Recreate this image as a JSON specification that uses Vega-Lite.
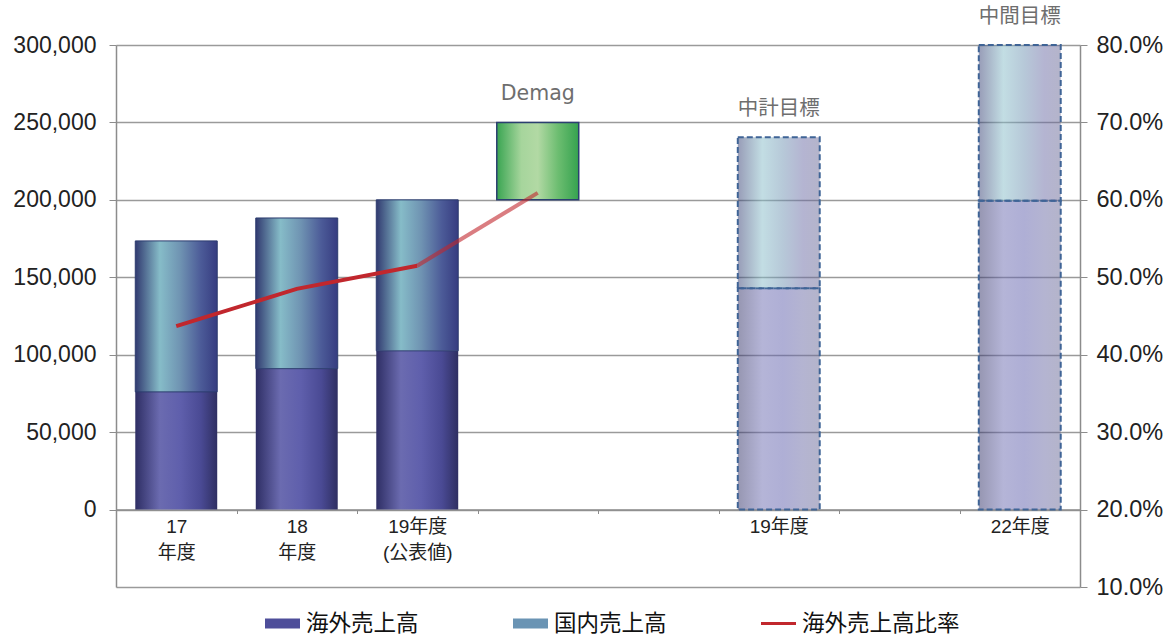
{
  "$schema": "https://vega.github.io/schema/vega-lite/v6.json",
  "width": 964,
  "height": 542,
  "autosize": {"type": "none"},
  "padding": {"left": 116, "top": 45, "right": 96, "bottom": 50},
  "config": {"view": {"stroke": null}, "font": "Liberation Sans, Noto Sans CJK JP"},
  "datasets": {
    "bars": [
      {"cat": "17|年度", "series": "海外売上高", "start": 0, "end": 76000, "kind": "実績"},
      {"cat": "17|年度", "series": "国内売上高", "start": 76000, "end": 173500, "kind": "実績"},
      {"cat": "18|年度", "series": "海外売上高", "start": 0, "end": 91000, "kind": "実績"},
      {"cat": "18|年度", "series": "国内売上高", "start": 91000, "end": 188300, "kind": "実績"},
      {"cat": "19年度|(公表値)", "series": "海外売上高", "start": 0, "end": 102500, "kind": "実績"},
      {"cat": "19年度|(公表値)", "series": "国内売上高", "start": 102500, "end": 200000, "kind": "実績"},
      {"cat": "19年度", "series": "海外売上高", "start": 0, "end": 143000, "kind": "目標"},
      {"cat": "19年度", "series": "国内売上高", "start": 143000, "end": 240500, "kind": "目標"},
      {"cat": "22年度", "series": "海外売上高", "start": 0, "end": 199500, "kind": "目標"},
      {"cat": "22年度", "series": "国内売上高", "start": 199500, "end": 300000, "kind": "目標"}
    ],
    "demag": [{"cat": "Demag", "start": 200000, "end": 250000}],
    "labels": [
      {"cat": "Demag", "label": "Demag", "top": 250000},
      {"cat": "19年度", "label": "中計目標", "top": 240500},
      {"cat": "22年度", "label": "中間目標", "top": 300000}
    ],
    "ratio": [
      {"cat": "17|年度", "series": "海外売上高比率", "ratio": 0.437, "seg": "実績"},
      {"cat": "18|年度", "series": "海外売上高比率", "ratio": 0.485, "seg": "実績"},
      {"cat": "19年度|(公表値)", "series": "海外売上高比率", "ratio": 0.515, "seg": "実績"},
      {"cat": "19年度|(公表値)", "series": "海外売上高比率", "ratio": 0.515, "seg": "Demag込"},
      {"cat": "Demag", "series": "海外売上高比率", "ratio": 0.609, "seg": "Demag込"}
    ]
  },
  "encoding": {
    "x": {
      "field": "cat",
      "type": "nominal",
      "sort": null,
      "scale": {
        "domain": ["17|年度", "18|年度", "19年度|(公表値)", "Demag", "s5", "19年度", "s7", "22年度"],
        "paddingInner": 0,
        "paddingOuter": 0
      },
      "axis": {
        "title": null,
        "labelAngle": 0,
        "labelExpr": "!isString(datum.value) || indexof(['Demag','s5','s7'], datum.value) >= 0 ? '' : split(datum.value, '|')",
        "tickBand": "extent",
        "offset": -77.5,
        "domainColor": "#8c8c8c",
        "domainWidth": 1.5,
        "tickColor": "#8c8c8c",
        "tickSize": 4,
        "labelFontSize": 19,
        "labelLineHeight": 26,
        "labelColor": "#222222",
        "labelPadding": 4,
        "grid": false
      }
    }
  },
  "layer": [
    {
      "layer": [
        {
          "data": {"name": "bars"},
          "transform": [{"filter": "datum.kind === '実績'"}],
          "mark": {"type": "bar", "width": {"band": 0.68}, "opacity": 0},
          "encoding": {
            "y": {
              "field": "start",
              "type": "quantitative",
              "scale": {"domain": [-50000, 300000], "nice": false, "zero": false},
              "axis": {
                "title": null,
                "values": [0, 50000, 100000, 150000, 200000, 250000, 300000],
                "format": ",.0f",
                "grid": false,
                "domainColor": "#8c8c8c",
                "domainWidth": 1.5,
                "tickColor": "#8c8c8c",
                "tickSize": 7,
                "labelPadding": 13,
                "labelFontSize": 23,
                "labelColor": "#222222"
              }
            },
            "y2": {"field": "end"},
            "color": {
              "field": "series",
              "type": "nominal",
              "scale": {
                "domain": ["海外売上高", "国内売上高", "海外売上高比率"],
                "range": ["#4e4e9a", "#6a94b4", "#c1272d"]
              },
              "legend": {
                "orient": "none",
                "legendX": 149,
                "legendY": 561,
                "direction": "horizontal",
                "title": null,
                "padding": 0,
                "labelFont": "Noto Sans CJK JP",
                "labelFontSize": 22.5,
                "labelColor": "#111111",
                "labelOffset": 6,
                "labelLimit": 300,
                "columnPadding": 94,
                "symbolSize": 1225,
                "symbolOpacity": 1,
                "symbolStrokeWidth": 0,
                "encode": {
                  "symbols": {
                    "update": {
                      "shape": {"signal": "datum.value === '海外売上高比率' ? 'M-1,-0.09H1V0.09H-1Z' : 'M-1,-0.29H1V0.29H-1Z'"},
                      "opacity": {"value": 1}
                    }
                  }
                }
              }
            }
          }
        },
        {
          "data": {"name": "bars"},
          "transform": [{"filter": "datum.kind === '実績' && datum.series === '海外売上高'"}],
          "mark": {
            "type": "bar", "width": {"band": 0.68},
            "fill": {"gradient": "linear", "x1": 0, "y1": 0, "x2": 1, "y2": 0, "stops": [
              {"offset": 0, "color": "#2e2e64"},
              {"offset": 0.3, "color": "#6b6bb0"},
              {"offset": 0.55, "color": "#5f5fac"},
              {"offset": 0.8, "color": "#4a4a94"},
              {"offset": 1, "color": "#2f2f62"}]}
          },
          "encoding": {
            "y": {"field": "start", "type": "quantitative"},
            "y2": {"field": "end"}
          }
        },
        {
          "data": {"name": "bars"},
          "transform": [{"filter": "datum.kind === '実績' && datum.series === '国内売上高'"}],
          "mark": {
            "type": "bar", "width": {"band": 0.68}, "stroke": "#2b3b6e", "strokeWidth": 1,
            "fill": {"gradient": "linear", "x1": 0, "y1": 0, "x2": 1, "y2": 0, "stops": [
              {"offset": 0, "color": "#313a70"},
              {"offset": 0.3, "color": "#86bcc8"},
              {"offset": 0.55, "color": "#6f93b2"},
              {"offset": 0.8, "color": "#4c5b98"},
              {"offset": 1, "color": "#363c80"}]}
          },
          "encoding": {
            "y": {"field": "start", "type": "quantitative"},
            "y2": {"field": "end"}
          }
        },
        {
          "data": {"name": "bars"},
          "transform": [{"filter": "datum.kind === '目標' && datum.series === '海外売上高'"}],
          "mark": {
            "type": "bar", "width": {"band": 0.68}, "fillOpacity": 0.5,
            "stroke": "#3f6496", "strokeWidth": 2, "strokeDash": [6, 3],
            "fill": {"gradient": "linear", "x1": 0, "y1": 0, "x2": 1, "y2": 0, "stops": [
              {"offset": 0, "color": "#2e2e64"},
              {"offset": 0.3, "color": "#6b6bb0"},
              {"offset": 0.55, "color": "#5f5fac"},
              {"offset": 0.8, "color": "#6a6aa4"},
              {"offset": 1, "color": "#6a6a96"}]}
          },
          "encoding": {
            "y": {"field": "start", "type": "quantitative"},
            "y2": {"field": "end"}
          }
        },
        {
          "data": {"name": "bars"},
          "transform": [{"filter": "datum.kind === '目標' && datum.series === '国内売上高'"}],
          "mark": {
            "type": "bar", "width": {"band": 0.68}, "fillOpacity": 0.5,
            "stroke": "#3f6496", "strokeWidth": 2, "strokeDash": [6, 3],
            "fill": {"gradient": "linear", "x1": 0, "y1": 0, "x2": 1, "y2": 0, "stops": [
              {"offset": 0, "color": "#313a70"},
              {"offset": 0.3, "color": "#86bcc8"},
              {"offset": 0.55, "color": "#6f93b2"},
              {"offset": 0.8, "color": "#6a6aa4"},
              {"offset": 1, "color": "#6a6a96"}]}
          },
          "encoding": {
            "y": {"field": "start", "type": "quantitative"},
            "y2": {"field": "end"}
          }
        },
        {
          "data": {"name": "demag"},
          "mark": {
            "type": "bar",
            "width": {"band": 0.68},
            "stroke": "#2b3f70",
            "strokeWidth": 1.5,
            "fill": {"gradient": "linear", "x1": 0, "y1": 0, "x2": 1, "y2": 0, "stops": [
              {"offset": 0, "color": "#3aa552"},
              {"offset": 0.3, "color": "#a6d59c"},
              {"offset": 0.5, "color": "#b2d9a4"},
              {"offset": 0.75, "color": "#6cbd70"},
              {"offset": 1, "color": "#35a24f"}]}
          },
          "encoding": {
            "y": {"field": "start", "type": "quantitative"},
            "y2": {"field": "end"}
          }
        },
        {
          "data": {"name": "labels"},
          "mark": {"type": "text", "dy": -28, "baseline": "middle", "fontSize": 20.5, "color": "#6e6e6e", "font": "DejaVu Sans, Noto Sans CJK JP"},
          "encoding": {
            "y": {"field": "top", "type": "quantitative"},
            "text": {"field": "label"}
          }
        }
      ]
    },
    {
      "layer": [
        {
          "data": {"name": "ratio"},
          "transform": [{"filter": "datum.seg === '実績'"}],
          "mark": {"type": "line", "strokeWidth": 4},
          "encoding": {
            "y": {
              "field": "ratio",
              "type": "quantitative",
              "scale": {"domain": [0.1, 0.8], "nice": false, "zero": false},
              "axis": {
                "orient": "right",
                "title": null,
                "values": [0.1, 0.2, 0.3, 0.4, 0.5, 0.6, 0.7, 0.8],
                "format": ".1%",
                "grid": true,
                "gridColor": "#9a9a9a",
                "gridWidth": 1.3,
                "domainColor": "#8c8c8c",
                "domainWidth": 1.5,
                "tickColor": "#8c8c8c",
                "tickSize": 7,
                "labelPadding": 9,
                "labelFontSize": 23.5,
                "labelColor": "#222222"
              }
            },
            "color": {"field": "series", "type": "nominal"}
          }
        },
        {
          "data": {"name": "ratio"},
          "transform": [{"filter": "datum.seg === 'Demag込'"}],
          "mark": {"type": "line", "strokeWidth": 4, "opacity": 0.6},
          "encoding": {
            "y": {"field": "ratio", "type": "quantitative"},
            "color": {"field": "series", "type": "nominal"}
          }
        }
      ]
    }
  ],
  "resolve": {"scale": {"y": "independent"}}
}
